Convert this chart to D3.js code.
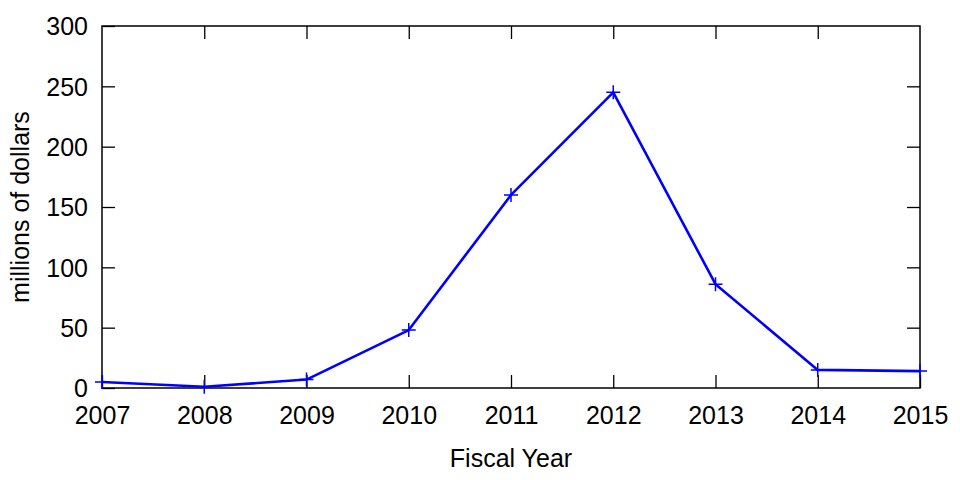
<!DOCTYPE html>
<html>
<head>
<meta charset="utf-8">
<script src="https://cdn.jsdelivr.net/npm/d3@7"></script>
<style>
  body { margin: 0; background: #fff; }
  svg text { font-family: "Liberation Sans", Arial, sans-serif; fill: #000; }
</style>
</head>
<body>
<svg id="chart" width="960" height="480"></svg>
<script>
// data
var years = [2007, 2008, 2009, 2010, 2011, 2012, 2013, 2014, 2015];
var values = [5, 1, 7, 48, 160, 245, 86, 15, 14];
var yTicks = [0, 50, 100, 150, 200, 250, 300];

var svg = d3.select("#chart"),
   margin = {top: 26, right: 40, bottom: 92, left: 102},
   width = 960 - margin.left - margin.right,
   height = 480 - margin.top - margin.bottom,
   tickLen = 13,
   fontSize = 25,
   g = svg.append("g").attr("transform", "translate(" + margin.left + "," + margin.top + ")");

var x = d3.scaleLinear().domain([2007, 2015]).range([0, width]),
   y = d3.scaleLinear().domain([0, 300]).range([height, 0]);

function styleAxis(sel, showText) {
   sel.select(".domain").remove();
   sel.selectAll(".tick line").attr("stroke", "#000").attr("stroke-width", 1.3);
   sel.selectAll("text").style("font-size", fontSize + "px");
   if (!showText) { sel.selectAll("text").remove(); }
}

// bottom axis, ticks point inward
g.append("g")
   .attr("transform", "translate(0," + height + ")")
   .call(d3.axisBottom(x).tickValues(years).tickFormat(d3.format("d"))
      .tickSizeInner(-tickLen).tickSizeOuter(0).tickPadding(0))
   .call(styleAxis, true)
   .selectAll("text").attr("dy", null).attr("y", 36);

// top axis
g.append("g")
   .call(d3.axisTop(x).tickValues(years.slice(1, -1)).tickSizeInner(-tickLen).tickSizeOuter(0))
   .call(styleAxis, false);

// left axis
g.append("g")
   .call(d3.axisLeft(y).tickValues(yTicks).tickSizeInner(-tickLen).tickSizeOuter(0).tickPadding(0))
   .call(styleAxis, true)
   .selectAll("text").attr("x", -14).attr("dy", "0.35em");

// right axis
g.append("g")
   .attr("transform", "translate(" + width + ",0)")
   .call(d3.axisRight(y).tickValues(yTicks.slice(1, -1)).tickSizeInner(-tickLen).tickSizeOuter(0))
   .call(styleAxis, false);

// frame
g.append("rect")
   .attr("width", width).attr("height", height)
   .attr("fill", "none").attr("stroke", "#000").attr("stroke-width", 1.5);

// axis titles
g.append("text")
   .attr("x", width / 2).attr("y", height + 79)
   .attr("text-anchor", "middle").style("font-size", fontSize + "px")
   .text("Fiscal Year");

svg.append("text")
   .attr("transform", "translate(29," + (margin.top + height / 2) + ") rotate(-90)")
   .attr("text-anchor", "middle").style("font-size", fontSize + "px")
   .text("millions of dollars");

// the series
var pts = years.map(function (yr, i) { return [yr, values[i]]; });

g.append("path")
   .datum(pts)
   .attr("fill", "none").attr("stroke", "#0000ff").attr("stroke-width", 2.6)
   .attr("stroke-linejoin", "round")
   .attr("d", d3.line().x(function (d) { return x(d[0]); }).y(function (d) { return y(d[1]); }));

g.selectAll(".pt")
   .data(pts)
   .enter().append("path")
   .attr("class", "pt")
   .attr("transform", function (d) { return "translate(" + x(d[0]) + "," + y(d[1]) + ")"; })
   .attr("d", "M-7,0H7M0,-7V7")
   .attr("stroke", "#0000ff").attr("stroke-width", 1.5).attr("fill", "none");
</script>
</body>
</html>
